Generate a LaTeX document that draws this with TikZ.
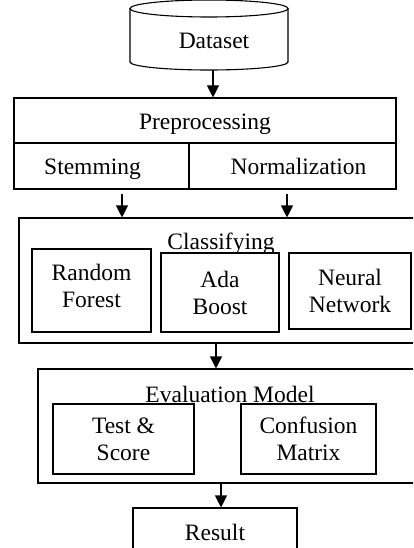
\documentclass[tikz,border=0pt]{standalone}
\usepackage{fontspec}
\setmainfont{Liberation Serif}
\usetikzlibrary{arrows.meta}

\tikzset{
  box/.style={draw, inner sep=0pt, align=center},
  onerow/.style={box, text height=18pt, text depth=0pt},
  flow/.style={-{Triangle[width=12pt,length=12pt]}},
}

\begin{document}
\begin{tikzpicture}[x=1pt, y=-1pt, line width=1.1pt, font=\fontsize{23.5}{27}\selectfont]
  \clip (0,0) rectangle (413,548);
  % dataset drum, drawn by hand
  \draw (209,8.5) ellipse [x radius=79, y radius=8.5];
  \draw (130,8.5) -- (130,62) arc[start angle=180, end angle=0, x radius=79, y radius=8] -- (288,8.5);
  \node[anchor=base] (data) at (214,49) {Dataset};

  \node[onerow, minimum width=382, minimum height=45] (prep) at (205,120.5) {Preprocessing};
  \node[onerow, minimum width=175, minimum height=46] (stem) at (101.5,166) {Stemming\hspace*{18pt}};
  \node[onerow, minimum width=207, minimum height=46] (norm) at (292.5,166) {\hspace*{12pt}Normalization};

  \node[box, minimum width=401, minimum height=125] (cls) at (219.5,280.5) {};
  \node[anchor=base] (clstitle) at (221,249) {Classifying};
  \node[box, minimum width=119, minimum height=83] (rf) at (91.5,290.5) {Random\\Forest\\[-17pt]};
  \node[box, minimum width=118, minimum height=79] (ada) at (220,292.5) {Ada\\Boost};
  \node[box, minimum width=122, minimum height=76] (nn) at (350,291) {Neural\\Network};

  \node[box, minimum width=382, minimum height=114] (eval) at (229,426) {};
  \node[anchor=base] (evaltitle) at (230,402) {Evaluation Model};
  \node[box, minimum width=141, minimum height=70] (ts) at (123.5,439) {Test \&\\Score};
  \node[box, minimum width=135, minimum height=70] (cm) at (308.5,439) {Confusion\\Matrix};

  \node[onerow, minimum width=164, minimum height=46] (res) at (215,531) {Result};

  \coordinate (d0) at (213,70);
  \coordinate (s0) at (122,194);
  \coordinate (n0) at (287,194);
  \coordinate (c0) at (216,343);
  \coordinate (e0) at (221,483);
  \foreach \a/\b in {d0/prep, s0/cls, n0/cls, c0/eval, e0/res}{
    \draw[flow] (\a) -- (\a |- \b.north); }
\end{tikzpicture}
\end{document}
